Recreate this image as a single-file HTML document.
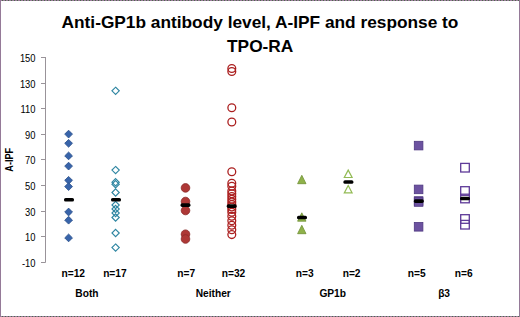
<!DOCTYPE html>
<html><head><meta charset="utf-8"><style>
html,body{margin:0;padding:0;background:#fff;}
body{width:520px;height:317px;overflow:hidden;position:relative;}
.bh{position:absolute;left:0;width:520px;height:1px;background:repeating-linear-gradient(90deg,#9b7b9b 0,#9b7b9b 2px,#4a6a4a 2px,#4a6a4a 3px);}
.bv{position:absolute;top:0;width:1px;height:317px;background:#957a98;}
svg{position:absolute;left:0;top:0;z-index:1;}
text{font-family:"Liberation Sans",sans-serif;fill:#000;}
.yl{font-size:10.4px;text-anchor:end;}
.yt{font-size:10.6px;font-weight:bold;text-anchor:middle;}
.ti{font-size:17.3px;font-weight:bold;text-anchor:middle;}
.nl{font-size:10.2px;font-weight:bold;text-anchor:middle;}
</style></head><body>
<div class="bh" style="top:0"></div><div class="bh" style="top:316px"></div><div class="bv" style="left:0"></div><div class="bv" style="left:519px"></div>
<svg width="520" height="317" viewBox="0 0 520 317">
<line x1="45.5" y1="57" x2="45.5" y2="262.5" stroke="#999399" stroke-width="1"/>
<line x1="41" y1="57.5" x2="45.5" y2="57.5" stroke="#999399" stroke-width="1"/>
<text transform="translate(35.5,61.8) scale(0.9,1)" class="yl">150</text>
<line x1="41" y1="83.5" x2="45.5" y2="83.5" stroke="#999399" stroke-width="1"/>
<text transform="translate(35.5,87.8) scale(0.9,1)" class="yl">130</text>
<line x1="41" y1="108.5" x2="45.5" y2="108.5" stroke="#999399" stroke-width="1"/>
<text transform="translate(35.5,112.8) scale(0.9,1)" class="yl">110</text>
<line x1="41" y1="134.5" x2="45.5" y2="134.5" stroke="#999399" stroke-width="1"/>
<text transform="translate(35.5,138.8) scale(0.9,1)" class="yl">90</text>
<line x1="41" y1="159.5" x2="45.5" y2="159.5" stroke="#999399" stroke-width="1"/>
<text transform="translate(35.5,163.8) scale(0.9,1)" class="yl">70</text>
<line x1="41" y1="185.5" x2="45.5" y2="185.5" stroke="#999399" stroke-width="1"/>
<text transform="translate(35.5,189.8) scale(0.9,1)" class="yl">50</text>
<line x1="41" y1="211.5" x2="45.5" y2="211.5" stroke="#999399" stroke-width="1"/>
<text transform="translate(35.5,215.8) scale(0.9,1)" class="yl">30</text>
<line x1="41" y1="236.5" x2="45.5" y2="236.5" stroke="#999399" stroke-width="1"/>
<text transform="translate(35.5,240.8) scale(0.9,1)" class="yl">10</text>
<line x1="41" y1="262.5" x2="45.5" y2="262.5" stroke="#999399" stroke-width="1"/>
<text transform="translate(35.5,266.8) scale(0.9,1)" class="yl">-10</text>
<text class="yt" transform="translate(13.2,159.8) rotate(-90) scale(0.86,1)">A-IPF</text>
<text x="260" y="27.6" class="ti">Anti-GP1b antibody level, A-IPF and response to</text>
<text x="260.2" y="51.5" class="ti">TPO-RA</text>
<path d="M68.6 130.2L72.5 134.1L68.6 138.0L64.69999999999999 134.1Z" fill="#3864aa" stroke="#2a4f8a" stroke-width="0.8"/>
<path d="M68.6 139.4L72.5 143.3L68.6 147.20000000000002L64.69999999999999 143.3Z" fill="#3864aa" stroke="#2a4f8a" stroke-width="0.8"/>
<path d="M68.6 152.0L72.5 155.9L68.6 159.8L64.69999999999999 155.9Z" fill="#3864aa" stroke="#2a4f8a" stroke-width="0.8"/>
<path d="M68.6 162.2L72.5 166.1L68.6 170.0L64.69999999999999 166.1Z" fill="#3864aa" stroke="#2a4f8a" stroke-width="0.8"/>
<path d="M68.6 176.4L72.5 180.3L68.6 184.20000000000002L64.69999999999999 180.3Z" fill="#3864aa" stroke="#2a4f8a" stroke-width="0.8"/>
<path d="M68.6 182.7L72.5 186.6L68.6 190.5L64.69999999999999 186.6Z" fill="#3864aa" stroke="#2a4f8a" stroke-width="0.8"/>
<path d="M68.6 208.1L72.5 212L68.6 215.9L64.69999999999999 212Z" fill="#3864aa" stroke="#2a4f8a" stroke-width="0.8"/>
<path d="M68.6 216.29999999999998L72.5 220.2L68.6 224.1L64.69999999999999 220.2Z" fill="#3864aa" stroke="#2a4f8a" stroke-width="0.8"/>
<path d="M68.6 234.0L72.5 237.9L68.6 241.8L64.69999999999999 237.9Z" fill="#3864aa" stroke="#2a4f8a" stroke-width="0.8"/>
<rect x="64" y="198.0" width="10" height="3.6" rx="1.6" fill="#000"/>
<path d="M115.6 87.19999999999999L119.25 90.85L115.6 94.5L111.94999999999999 90.85Z" fill="none" stroke="#2f86a2" stroke-width="1.15"/>
<path d="M115.6 166.45L119.25 170.1L115.6 173.75L111.94999999999999 170.1Z" fill="none" stroke="#2f86a2" stroke-width="1.15"/>
<path d="M115.6 178.65L119.25 182.3L115.6 185.95000000000002L111.94999999999999 182.3Z" fill="none" stroke="#2f86a2" stroke-width="1.15"/>
<path d="M115.6 180.54999999999998L119.25 184.2L115.6 187.85L111.94999999999999 184.2Z" fill="none" stroke="#2f86a2" stroke-width="1.15"/>
<path d="M115.6 188.85L119.25 192.5L115.6 196.15L111.94999999999999 192.5Z" fill="none" stroke="#2f86a2" stroke-width="1.15"/>
<path d="M115.6 201.35L119.25 205L115.6 208.65L111.94999999999999 205Z" fill="none" stroke="#2f86a2" stroke-width="1.15"/>
<path d="M115.6 205.35L119.25 209L115.6 212.65L111.94999999999999 209Z" fill="none" stroke="#2f86a2" stroke-width="1.15"/>
<path d="M115.6 209.35L119.25 213L115.6 216.65L111.94999999999999 213Z" fill="none" stroke="#2f86a2" stroke-width="1.15"/>
<path d="M115.6 213.85L119.25 217.5L115.6 221.15L111.94999999999999 217.5Z" fill="none" stroke="#2f86a2" stroke-width="1.15"/>
<path d="M115.6 229.35L119.25 233L115.6 236.65L111.94999999999999 233Z" fill="none" stroke="#2f86a2" stroke-width="1.15"/>
<path d="M115.6 243.95L119.25 247.6L115.6 251.25L111.94999999999999 247.6Z" fill="none" stroke="#2f86a2" stroke-width="1.15"/>
<rect x="111" y="198.0" width="10" height="3.6" rx="1.6" fill="#000"/>
<circle cx="185.5" cy="187.9" r="4.3" fill="#ae3836" stroke="#8a2a28" stroke-width="0.8"/>
<circle cx="185.5" cy="201.5" r="4.3" fill="#ae3836" stroke="#8a2a28" stroke-width="0.8"/>
<circle cx="185.5" cy="210.5" r="4.3" fill="#ae3836" stroke="#8a2a28" stroke-width="0.8"/>
<circle cx="185.5" cy="234.2" r="4.3" fill="#ae3836" stroke="#8a2a28" stroke-width="0.8"/>
<circle cx="185.5" cy="239" r="4.3" fill="#ae3836" stroke="#8a2a28" stroke-width="0.8"/>
<rect x="180.5" y="203.29999999999998" width="10" height="3.6" rx="1.6" fill="#000"/>
<circle cx="231.8" cy="68.5" r="3.9" fill="none" stroke="#ab1f1f" stroke-width="1.3"/>
<circle cx="231.8" cy="71.5" r="3.9" fill="none" stroke="#ab1f1f" stroke-width="1.3"/>
<circle cx="231.8" cy="107.7" r="3.9" fill="none" stroke="#ab1f1f" stroke-width="1.3"/>
<circle cx="231.8" cy="122" r="3.9" fill="none" stroke="#ab1f1f" stroke-width="1.3"/>
<circle cx="231.8" cy="171.8" r="3.9" fill="none" stroke="#ab1f1f" stroke-width="1.3"/>
<circle cx="231.8" cy="183.3" r="3.9" fill="none" stroke="#ab1f1f" stroke-width="1.3"/>
<circle cx="231.8" cy="186.2" r="3.9" fill="none" stroke="#ab1f1f" stroke-width="1.3"/>
<circle cx="231.8" cy="191" r="3.9" fill="none" stroke="#ab1f1f" stroke-width="1.3"/>
<circle cx="231.8" cy="193.8" r="3.9" fill="none" stroke="#ab1f1f" stroke-width="1.3"/>
<circle cx="231.8" cy="196.5" r="3.9" fill="none" stroke="#ab1f1f" stroke-width="1.3"/>
<circle cx="231.8" cy="199.3" r="3.9" fill="none" stroke="#ab1f1f" stroke-width="1.3"/>
<circle cx="231.8" cy="202" r="3.9" fill="none" stroke="#ab1f1f" stroke-width="1.3"/>
<circle cx="231.8" cy="204.5" r="3.9" fill="none" stroke="#ab1f1f" stroke-width="1.3"/>
<circle cx="231.8" cy="207" r="3.9" fill="none" stroke="#ab1f1f" stroke-width="1.3"/>
<circle cx="231.8" cy="209.5" r="3.9" fill="none" stroke="#ab1f1f" stroke-width="1.3"/>
<circle cx="231.8" cy="212.3" r="3.9" fill="none" stroke="#ab1f1f" stroke-width="1.3"/>
<circle cx="231.8" cy="216.2" r="3.9" fill="none" stroke="#ab1f1f" stroke-width="1.3"/>
<circle cx="231.8" cy="220.8" r="3.9" fill="none" stroke="#ab1f1f" stroke-width="1.3"/>
<circle cx="231.8" cy="225.2" r="3.9" fill="none" stroke="#ab1f1f" stroke-width="1.3"/>
<circle cx="231.8" cy="229.7" r="3.9" fill="none" stroke="#ab1f1f" stroke-width="1.3"/>
<circle cx="231.8" cy="234.6" r="3.9" fill="none" stroke="#ab1f1f" stroke-width="1.3"/>
<rect x="226.7" y="204.29999999999998" width="10" height="3.6" rx="1.6" fill="#000"/>
<path d="M301.8 175.3L306.0 183.7L297.6 183.7Z" fill="#8fb24a" stroke="#6f8f34" stroke-width="0.8"/>
<path d="M301.8 212.8L306.0 221.2L297.6 221.2Z" fill="#8fb24a" stroke="#6f8f34" stroke-width="0.8"/>
<path d="M301.8 225.3L306.0 233.7L297.6 233.7Z" fill="#8fb24a" stroke="#6f8f34" stroke-width="0.8"/>
<rect x="297" y="215.7" width="10" height="3.6" rx="1.6" fill="#000"/>
<path d="M348.2 170.10000000000002L352.09999999999997 177.5L344.3 177.5Z" fill="none" stroke="#93bb55" stroke-width="1.2"/>
<path d="M348.2 185.5L352.09999999999997 192.89999999999998L344.3 192.89999999999998Z" fill="none" stroke="#93bb55" stroke-width="1.2"/>
<rect x="343.4" y="180.2" width="10" height="3.6" rx="1.6" fill="#000"/>
<rect x="414.3" y="141.29999999999998" width="8.6" height="8.6" fill="#6c52a0" stroke="#4e3880" stroke-width="0.8"/>
<rect x="414.3" y="185.1" width="8.6" height="8.6" fill="#6c52a0" stroke="#4e3880" stroke-width="0.8"/>
<rect x="414.3" y="196.7" width="8.6" height="8.6" fill="#6c52a0" stroke="#4e3880" stroke-width="0.8"/>
<rect x="414.3" y="197.7" width="8.6" height="8.6" fill="#6c52a0" stroke="#4e3880" stroke-width="0.8"/>
<rect x="414.3" y="222.5" width="8.6" height="8.6" fill="#6c52a0" stroke="#4e3880" stroke-width="0.8"/>
<rect x="413.8" y="199.29999999999998" width="10" height="3.6" rx="1.6" fill="#000"/>
<rect x="460.7" y="163.39999999999998" width="8.6" height="8.6" fill="none" stroke="#5e3a98" stroke-width="1.3"/>
<rect x="460.7" y="186.7" width="8.6" height="8.6" fill="none" stroke="#5e3a98" stroke-width="1.3"/>
<rect x="460.7" y="194.2" width="8.6" height="8.6" fill="none" stroke="#5e3a98" stroke-width="1.3"/>
<rect x="460.7" y="214.7" width="8.6" height="8.6" fill="none" stroke="#5e3a98" stroke-width="1.3"/>
<rect x="460.7" y="220.39999999999998" width="8.6" height="8.6" fill="none" stroke="#5e3a98" stroke-width="1.3"/>
<rect x="460" y="196.7" width="10" height="3.6" rx="1.6" fill="#000"/>
<text x="73.3" y="277.3" class="nl">n=12</text>
<text x="114.9" y="277.3" class="nl">n=17</text>
<text x="186.2" y="277.3" class="nl">n=7</text>
<text x="233.5" y="277.3" class="nl">n=32</text>
<text x="304.7" y="277.3" class="nl">n=3</text>
<text x="351.6" y="277.3" class="nl">n=2</text>
<text x="416.7" y="277.3" class="nl">n=5</text>
<text x="463.7" y="277.3" class="nl">n=6</text>
<text x="86.9" y="296.9" class="nl">Both</text>
<text x="213.3" y="296.9" class="nl">Neither</text>
<text x="332.7" y="296.9" class="nl">GP1b</text>
<text x="444.1" y="296.9" class="nl">β3</text>
</svg>
</body></html>
